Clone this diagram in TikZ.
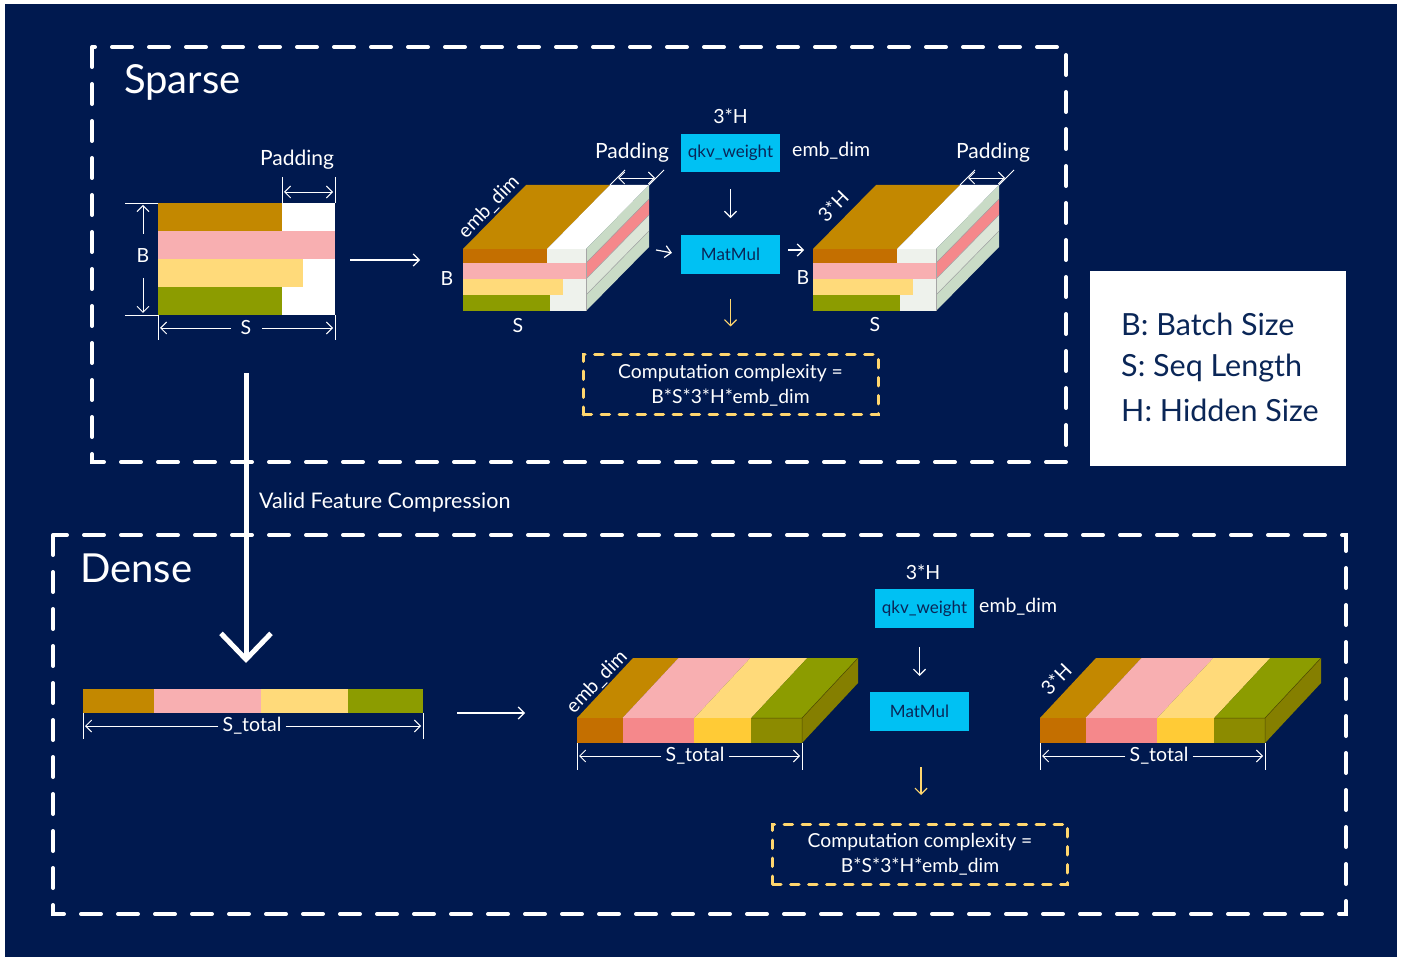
\documentclass[tikz,border=0pt]{standalone}
\usepackage{fontspec}
\setmainfont{Lato}
\usetikzlibrary{arrows.meta}
\definecolor{navy}{HTML}{00194F}
\definecolor{cgold}{HTML}{C38800}
\definecolor{cbrown}{HTML}{C46F00}
\definecolor{cpink}{HTML}{F8AFB1}
\definecolor{cpinkd}{HTML}{F5888B}
\definecolor{cyel}{HTML}{FFDA7A}
\definecolor{cyeld}{HTML}{FFCB36}
\definecolor{colive}{HTML}{8C9C00}
\definecolor{colived}{HTML}{8C8B00}
\definecolor{coliveside}{HTML}{857F00}
\definecolor{cpad}{HTML}{EEF2EC}
\definecolor{csideA}{HTML}{C9DBC6}
\definecolor{csideB}{HTML}{DCE6D8}
\definecolor{ccyan}{HTML}{00C1F3}
\definecolor{cdash}{HTML}{FFD66E}
\definecolor{ctext}{HTML}{0A2657}
\tikzset{
  thinw/.style={draw=white, line width=1.2pt},
  arr/.style={thinw, -{Straight Barb[length=6pt,width=12pt]}},
  darr/.style={thinw, {Straight Barb[length=6pt,width=12pt]}-{Straight Barb[length=6pt,width=12pt]}},
  yarr/.style={draw=cdash, line width=1.2pt, -{Straight Barb[length=6pt,width=12pt]}},
  lbl/.style={text=white, inner sep=0pt, font=\fontsize{19.5}{23}\selectfont},
  padlbl/.style={lbl, font=\fontsize{21}{25}\selectfont},
  title/.style={text=white, inner sep=0pt, font=\fontsize{40}{46}\selectfont},
  opbox/.style={fill=ccyan, text=ctext, minimum width=99pt, minimum height=38.5pt, inner sep=0pt, font=\fontsize{17}{20}\selectfont},
  cplx/.style={draw=cdash, line width=3pt, dash pattern=on 8.5pt off 9.5pt, line cap=round, minimum width=295pt, minimum height=60pt, text=white, align=center, inner sep=0pt, font=\fontsize{19.3}{25}\selectfont},
  region/.style={draw=white, line width=4pt, dash pattern=on 20pt off 17pt, line cap=round},
  sep/.style={draw=gray!70, line width=0.5pt},
  legend/.style={text=ctext, inner sep=0pt, font=\fontsize{30.5}{36}\selectfont}
}
\newcommand{\sparsecube}[1]{%
\begin{scope}[shift={(#1,0)}]
  \fill[cgold] (0,249) -- (84,249) -- (147,185) -- (63,185) -- cycle;
  \fill[white] (84,249) -- (123,249) -- (186,185) -- (147,185) -- cycle;
  \fill[csideA] (123,249) -- (186,185) -- (186,199) -- (123,263) -- cycle;
  \fill[cpinkd] (123,263) -- (186,199) -- (186,215) -- (123,279) -- cycle;
  \fill[csideB] (123,279) -- (186,215) -- (186,231) -- (123,295) -- cycle;
  \fill[csideA] (123,295) -- (186,231) -- (186,247) -- (123,311) -- cycle;
  \draw[sep] (123,263) -- (186,199) (123,279) -- (186,215) (123,295) -- (186,231);
  \fill[cpad] (0,249) rectangle (123,311);
  \fill[cbrown] (0,249) rectangle (84,263);
  \fill[cpink] (0,263) rectangle (123,279);
  \fill[cyel] (0,279) rectangle (100,295);
  \fill[colive] (0,295) rectangle (87,311);
  \draw[sep] (123,249) -- (123,311);
  \draw[thinw, line width=0.9pt] (147,185) -- (162,170) (186,185) -- (201,170);
  \draw[darr, line width=0.9pt] (155,178) -- (192,178);
\end{scope}}
\newcommand{\denseslab}[1]{%
\begin{scope}[shift={(#1,0)}]
  \fill[cgold] (0,718) -- (45.5,718) -- (101.5,658) -- (56,658) -- cycle;
  \fill[cpink] (45.5,718) -- (117.3,718) -- (173.3,658) -- (101.5,658) -- cycle;
  \fill[cyel] (117.3,718) -- (174.3,718) -- (230.3,658) -- (173.3,658) -- cycle;
  \fill[colive] (174.3,718) -- (225,718) -- (281,658) -- (230.3,658) -- cycle;
  \fill[coliveside] (225,718) -- (281,658) -- (281,683) -- (225,743) -- cycle;
  \fill[cbrown] (0,718) rectangle (45.5,743);
  \fill[cpinkd] (45.5,718) rectangle (117.3,743);
  \fill[cyeld] (117.3,718) rectangle (174.3,743);
  \fill[colived] (174.3,718) rectangle (225,743);
  \draw[draw=black!40!coliveside, line width=0.5pt] (174.3,718) -- (225,718) -- (281,658) (225,718) -- (225,743);
  \draw[thinw, line width=0.9pt] (0,743) -- (0,770) (225,743) -- (225,770);
\end{scope}}
\begin{document}
\begin{tikzpicture}[x=1pt,y=-1pt]
\useasboundingbox (0,0) rectangle (1401,957);
\fill[white] (0,0) rectangle (1401,957);
\fill[navy] (5,4) rectangle (1397,957);

% ---------------- Sparse ----------------
\draw[region] (92,47) rectangle (1066,462);
\node[title, anchor=base west] (tsparse) at (124,94) {Sparse};

% left matrix
\fill[white] (158,203) rectangle (335,315);
\fill[cgold] (158,203) rectangle (282,231);
\fill[cpink] (158,231) rectangle (335,259);
\fill[cyel] (158,259) rectangle (303,287);
\fill[colive] (158,287) rectangle (282,315);
\coordinate (mat) at (246,259);
% B dimension
\draw[thinw, line width=0.9pt] (125,203) -- (158,203) (125,315) -- (158,315);
\node[lbl] (bl) at (143,256) {B};
\coordinate (bup) at (143,205);
\coordinate (bdn) at (143,313);
\draw[arr, line width=0.9pt] (bl) ++(0,-22) -- (bup);
\draw[arr, line width=0.9pt] (bl) ++(0,22) -- (bdn);
% S dimension
\draw[thinw, line width=0.9pt] (158,315) -- (158,340) (335,315) -- (335,340);
\node[lbl] (sl) at (246,328) {S};
\coordinate (sa) at (160,328);
\coordinate (sb) at (333,328);
\draw[arr, line width=0.9pt] (231,328) -- (sa);
\draw[arr, line width=0.9pt] (262,328) -- (sb);
% padding
\draw[thinw, line width=0.9pt] (282,177) -- (282,203) (335,177) -- (335,203);
\draw[darr, line width=0.9pt] (284,192) -- (333,192);
\node[padlbl] (pad0) at (297,160) {Padding};

\coordinate (a1s) at (350,260);
\coordinate (a1e) at (420,260);
\draw[arr] (a1s) -- (a1e);

% cubes
\sparsecube{463}
\sparsecube{813}
\node[lbl, rotate=46] (ed1) at (489,207) {emb\_dim};
\node[lbl] (b1) at (447,279) {B};
\node[lbl] (s1) at (518,326) {S};
\node[padlbl] (pad1) at (632,153) {Padding};
\node[lbl, rotate=46] (h1) at (833,206) {3*H};
\node[lbl] (b2) at (803,278) {B};
\node[lbl] (s2) at (875,325) {S};
\node[padlbl] (pad2) at (993,153) {Padding};

% qkv & matmul
\node[opbox] (qkv1) at (730.5,153) {qkv\_weight};
\node[opbox] (mm1) at (730.5,254.5) {MatMul};
\node[lbl] (h3a) at (730.5,116) {3*H};
\node[lbl, anchor=west] (emb1) at (792,151) {emb\_dim};
\draw[arr, shorten <=17pt, shorten >=17pt] (qkv1) -- (mm1);
\coordinate (c1r) at (656,250);
\coordinate (c2l) at (804,250);
\draw[arr] (c1r) -- (mm1.west) [shorten >=9pt];
\draw[arr, shorten <=8pt] (mm1.east |- c2l) -- (c2l);
\node[cplx] (cx1) at (730.5,385) {Computation complexity =\\B*S*3*H*emb\_dim};
\draw[yarr, shorten <=25pt, shorten >=27pt] (mm1) -- (cx1);

% legend
\node[fill=white, minimum width=256pt, minimum height=195pt, inner sep=0pt] (leg) at (1218,368.5) {};
\node[legend, anchor=base west] (l1) at (1121,336) {B: Batch Size};
\node[legend, anchor=base west] (l2) at (1121,377) {S: Seq Length};
\node[legend, anchor=base west] (l3) at (1121,422) {H: Hidden Size};

% big arrow
\coordinate (bigs) at (246,373);
\coordinate (bige) at (246,663);
\draw[draw=white, line width=5pt, -{Straight Barb[length=26pt,width=50pt]}] (bigs) -- (bige);
\node[lbl, anchor=base west, font=\fontsize{21.5}{25}\selectfont] (vfc) at (259,508) {Valid Feature Compression};

% ---------------- Dense ----------------
\draw[region] (53,535) rectangle (1346,914);
\node[title, anchor=base west] (tdense) at (80,582) {Dense};

% bar
\fill[cgold] (83,689) rectangle (154,713);
\fill[cpink] (154,689) rectangle (261,713);
\fill[cyel] (261,689) rectangle (348,713);
\fill[colive] (348,689) rectangle (423,713);
\draw[thinw, line width=0.9pt] (83,713) -- (83,739) (423,713) -- (423,739);
\node[lbl] (st0) at (252,726) {S\_total};
\coordinate (st0a) at (85,726);
\coordinate (st0b) at (421,726);
\draw[arr, line width=0.9pt] (st0.west) ++(-4,0) -- (st0a);
\draw[arr, line width=0.9pt] (st0.east) ++(4,0) -- (st0b);

\coordinate (a2s) at (457,713);
\coordinate (a2e) at (525,713);
\draw[arr] (a2s) -- (a2e);

\denseslab{577}
\denseslab{1040}
\node[lbl, rotate=46] (ed2) at (597,682) {emb\_dim};
\node[lbl, rotate=46] (h2) at (1056,679) {3*H};
\node[lbl] (st1) at (695,756) {S\_total};
\coordinate (st1a) at (579,756);
\coordinate (st1b) at (800,756);
\draw[arr, line width=0.9pt] (st1.west) ++(-4,0) -- (st1a);
\draw[arr, line width=0.9pt] (st1.east) ++(4,0) -- (st1b);
\node[lbl] (st2) at (1159,756) {S\_total};
\coordinate (st2a) at (1042,756);
\coordinate (st2b) at (1263,756);
\draw[arr, line width=0.9pt] (st2.west) ++(-4,0) -- (st2a);
\draw[arr, line width=0.9pt] (st2.east) ++(4,0) -- (st2b);

\node[opbox] (qkv2) at (924.5,608.5) {qkv\_weight};
\node[opbox] (mm2) at (919.5,711.5) {MatMul};
\node[lbl] (h3b) at (923,572) {3*H};
\node[lbl, anchor=west] (emb2) at (979,607) {emb\_dim};
\coordinate (d2s) at (919.5,647);
\coordinate (d2e) at (919.5,676);
\draw[arr] (d2s) -- (d2e);
\node[cplx] (cx2) at (920,854) {Computation complexity =\\B*S*3*H*emb\_dim};
\coordinate (y2s) at (921,767);
\coordinate (y2e) at (921,795);
\draw[yarr] (y2s) -- (y2e);
\end{tikzpicture}
\end{document}
